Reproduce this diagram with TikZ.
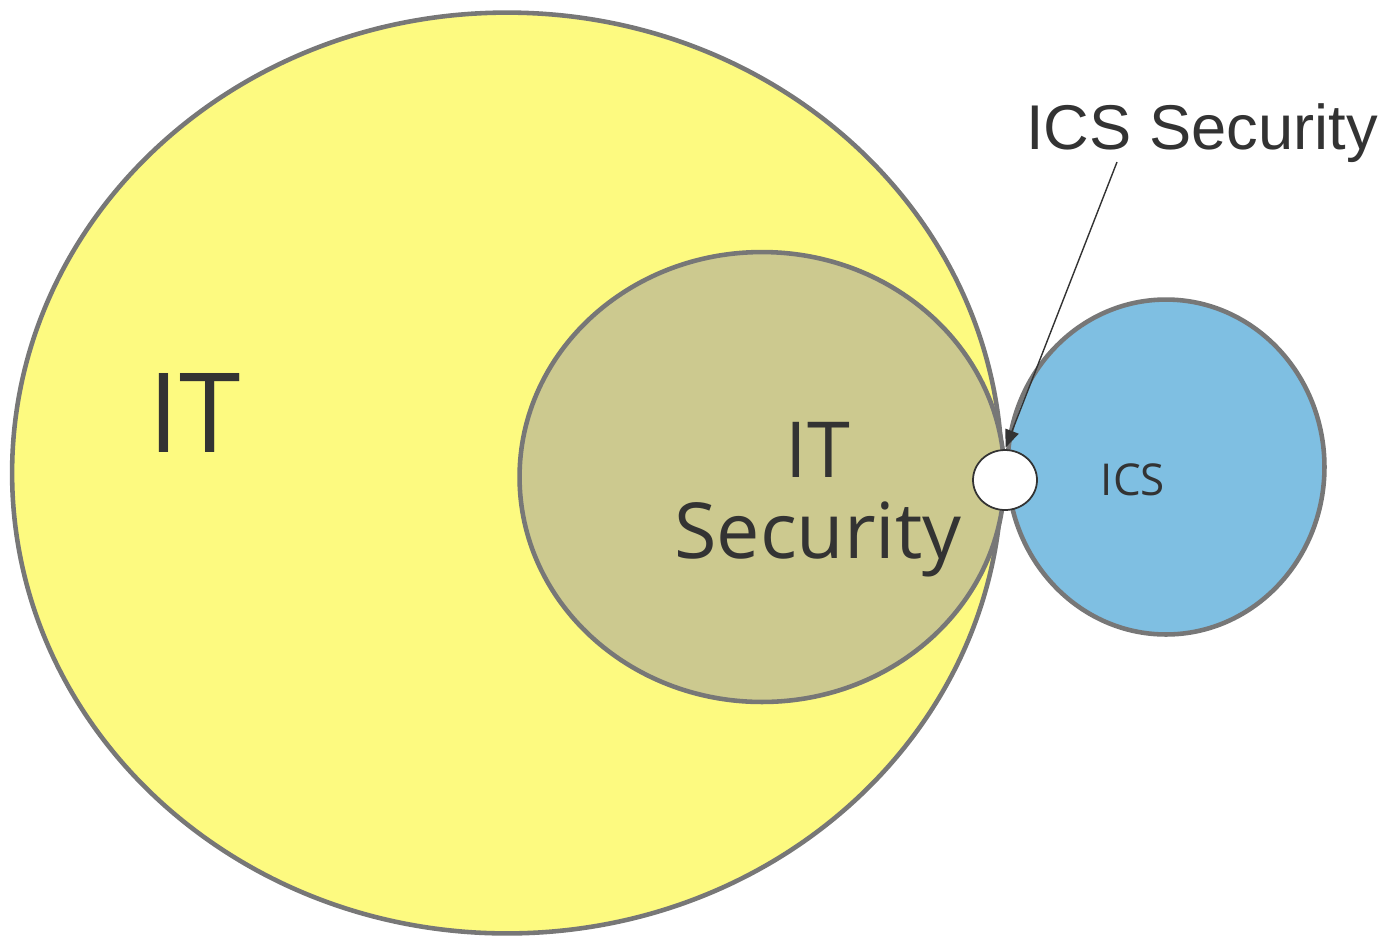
\documentclass[tikz,border=0pt]{standalone}
\usepackage{fontspec}
\setmainfont{Open Sans}
\newfontfamily\labelfont{Liberation Sans}
\usetikzlibrary{shapes.geometric}
\usetikzlibrary{arrows.meta}

\definecolor{ityellow}{HTML}{FDFA80}
\definecolor{secolive}{HTML}{CCC98F}
\definecolor{icsblue}{HTML}{7FBFE2}
\definecolor{rimgray}{HTML}{777777}
\definecolor{inkgray}{HTML}{333333}

\tikzset{
  area/.style={ellipse, draw=rimgray, line width=2.6pt, inner sep=0pt},
  word/.style={text=inkgray, align=center, inner sep=0pt}
}

\begin{document}
\begin{tikzpicture}[x=0.02cm, y=-0.02cm]
  % frame of the picture
  \useasboundingbox (0,0) rectangle (1386,938);

  % the three sets
  \node[area, fill=ityellow, minimum width=19.8cm, minimum height=18.42cm] (it) at (507,473) {};
  \node[area, fill=secolive, minimum width=9.7cm, minimum height=9cm] (itsec) at (762,477) {};
  \node[area, fill=icsblue, minimum width=6.34cm, minimum height=6.7cm] (ics) at (1166,467) {};

  % where IT security meets ICS
  \node[ellipse, draw=inkgray, line width=1pt, fill=white, minimum width=1.28cm, minimum height=1.2cm] (dot) at (1005,480) {};

  % labels
  \node[word, font=\fontsize{63}{63}\selectfont] (itlabel) at (195,413) {IT};
  \node[word, font=\fontsize{44}{46}\selectfont] (seclabel) at (818,500) {IT\\Security};
  \node[word, font=\fontsize{25}{25}\selectfont] (icslabel) at (1133,480) {ICS};
  \node[word, font=\labelfont\fontsize{36}{36}\selectfont] (icssec) at (1202,133) {ICS Security};

  % pointer to the meeting point
  \coordinate (tail) at (1117,162);
  \draw[inkgray, line width=0.8pt, -{Triangle[length=10pt, width=8pt]}, shorten >=1pt] (tail) -- (dot.north);
\end{tikzpicture}
\end{document}
